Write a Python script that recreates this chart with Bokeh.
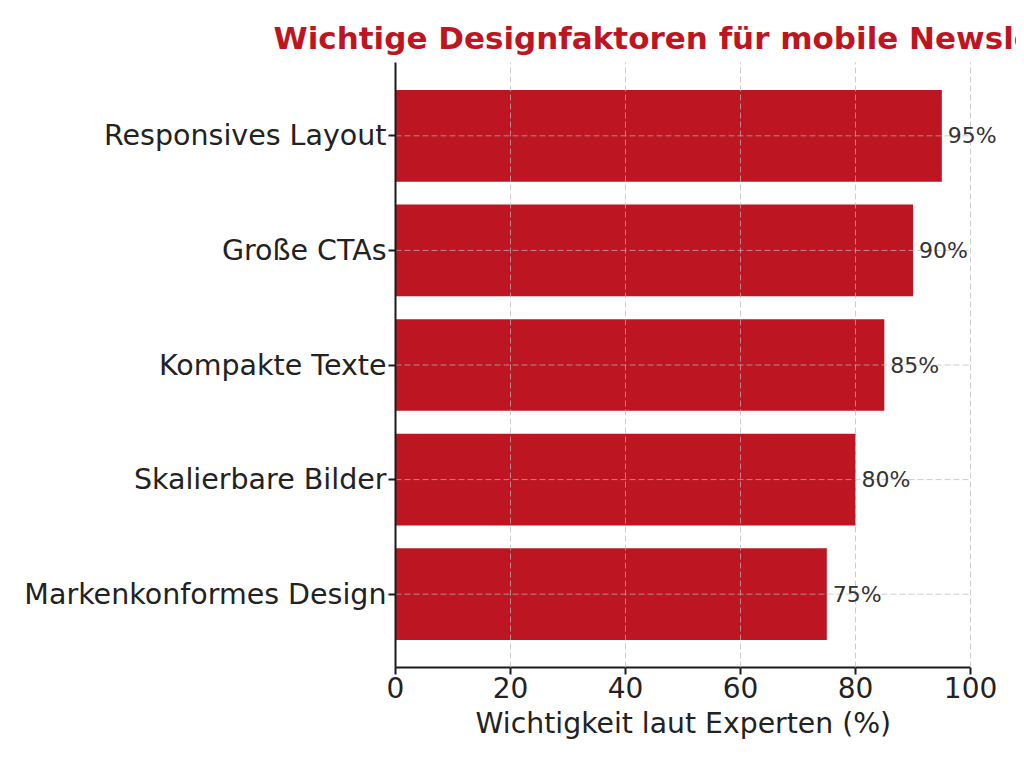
from bokeh.plotting import figure
from bokeh.models import Range1d, FactorRange, ColumnDataSource, LabelSet, FixedTicker, Title
from bokeh.core.properties import value
from bokeh.embed import file_html
from bokeh.resources import INLINE

categories = ["Responsives Layout", "Große CTAs", "Kompakte Texte",
              "Skalierbare Bilder", "Markenkonformes Design"]
values = [95, 90, 85, 80, 75]
value_labels = [f"{v}%" for v in values]
x_ticks = [0, 20, 40, 60, 80, 100]

RED = "#bd1622"
FONT = "DejaVu Sans"
GRID = "#b8b8b8"

src = ColumnDataSource(dict(
    cat=categories, val=values, lab=value_labels,
    g0=[x_ticks[0]] * len(categories), g1=[x_ticks[-1]] * len(categories),
))

p = figure(
    width=1016, height=752,
    y_range=FactorRange(factors=list(reversed(categories)), range_padding=0.056),
    x_range=Range1d(0, 105.9),
    output_backend="svg", toolbar_location=None,
    min_border_left=395, min_border_right=12, min_border_top=62, min_border_bottom=85,
)

p.title.text = "Wichtige Designfaktoren für mobile Newsletter"
p.title.align = "left"
p.title.offset = -122
p.title.text_font = FONT
p.title.text_font_size = "31px"
p.title.text_font_style = "bold"
p.title.text_color = RED
p.title.standoff = 13

p.hbar(y="cat", right="val", left=0, height=0.8, source=src,
       fill_color=RED, line_color=None)

# horizontal dashed grid lines at the category centres, drawn over the bars
p.segment(x0="g0", x1="g1", y0="cat", y1="cat", source=src,
          line_color=GRID, line_alpha=0.7, line_dash="6 3", line_width=1)

labels = LabelSet(x="val", y="cat", text="lab", source=src, x_offset=6,
                  text_align="left", text_baseline="middle",
                  text_font=value(FONT), text_font_size="22px", text_color="#333333")
p.add_layout(labels)

p.outline_line_color = None
p.background_fill_color = "white"

p.ygrid.visible = False
p.xgrid.grid_line_color = GRID
p.xgrid.grid_line_alpha = 0.7
p.xgrid.grid_line_dash = "6 3"
p.xgrid.grid_line_width = 1
p.xgrid.level = "annotation"

p.xaxis.ticker = FixedTicker(ticks=x_ticks)
p.xaxis.bounds = (x_ticks[0], x_ticks[-1])
for ax in (p.xaxis, p.yaxis):
    ax.axis_line_color = "#1a1a1a"
    ax.axis_line_width = 2
    ax.major_tick_line_color = "#1a1a1a"
    ax.major_tick_line_width = 2
    ax.major_tick_out = 7
    ax.major_tick_in = 0
    ax.minor_tick_line_color = None
    ax.major_label_text_font = FONT
    ax.major_label_text_font_size = "28px"
    ax.major_label_text_color = "#222222"
p.yaxis.major_label_text_font_size = "28.5px"
p.yaxis.major_label_standoff = 2
p.xaxis.major_label_standoff = 2

# x-axis title, centred under the 0–100 span of the axis
xlabel = Title(text="Wichtigkeit laut Experten (%)", align="left", offset=80,
               text_font=FONT, text_font_size="28.3px", text_font_style="normal",
               text_color="#222222", standoff=8)
p.add_layout(xlabel, "below")

open("out.html", "w").write(file_html(p, INLINE))
